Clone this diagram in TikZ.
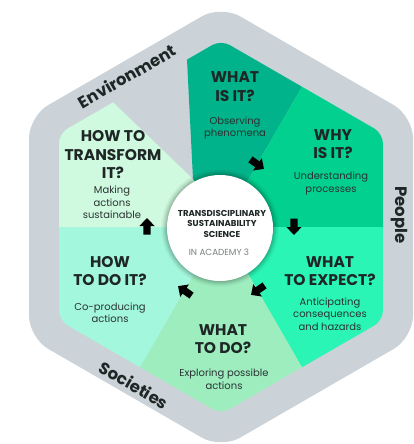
\documentclass[tikz,border=0pt]{standalone}
\usepackage{fontspec}
\setmainfont{Poppins}
\definecolor{cband}{HTML}{CBD3D8}
\definecolor{cwhat}{HTML}{00B38A}
\definecolor{cwhy}{HTML}{02D08F}
\definecolor{cexp}{HTML}{2AF5B4}
\definecolor{cdo}{HTML}{9DEDBF}
\definecolor{chow}{HTML}{A3F7DC}
\definecolor{ctrans}{HTML}{CFFADF}
\definecolor{ctext}{HTML}{1E2626}
\definecolor{cbody}{HTML}{2B3333}
\definecolor{csub}{HTML}{7A7F80}
\newcommand\mkhead{\fontsize{15.5}{18.4}\selectfont\bfseries}
\newcommand\mkbody{\fontsize{10}{12.4}\selectfont}
\newcommand\mkband{\fontsize{16.5}{19}\selectfont\bfseries}
\newcommand\mkcore{\fontsize{8.6}{10.6}\selectfont\bfseries}
\newcommand\mksub{\fontsize{8.8}{10.6}\selectfont}
\begin{document}
\begin{tikzpicture}[x=1pt,y=-1pt,
  head/.style={font=\mkhead, text=ctext, align=center, inner sep=0pt},
  body/.style={font=\mkbody, text=cbody, align=center, inner sep=0pt},
  band/.style={font=\mkband, text=ctext, inner sep=0pt},
  coretext/.style={font=\mkcore, text=ctext, align=center, inner sep=0pt},
  coresub/.style={font=\mksub, text=csub, inner sep=0pt},
  flowarrow/.pic={\fill[black] (-8,-3.6) -- (0.5,-3.6) -- (0.5,-7.6) -- (8.5,0)
      -- (0.5,7.6) -- (0.5,3.6) -- (-8,3.6) -- cycle;}]
\useasboundingbox (0,0) rectangle (414,444);
% outer band
\fill[cband, rounded corners=22pt] (221,5.3) -- (413,116.2) -- (413,337.8)
  -- (221,448.7) -- (29,337.8) -- (29,116.2) -- cycle;
% segments
\begin{scope}
\clip[rounded corners=10pt] (221,40) -- (383,133.5) -- (383,320.5)
  -- (221,414) -- (59,320.5) -- (59,133.5) -- cycle;
\fill[cwhat] (221,227) -- (193,179) -- (181,-60) -- (383,-53.6) -- cycle;
\fill[cwhy] (221,227) -- (383,-53.6) -- (545,40) -- (545,227) -- cycle;
\fill[cexp] (221,227) -- (545,227) -- (545,414) -- (383,507.6) -- cycle;
\fill[cdo] (221,227) -- (383,507.6) -- (221,601) -- (59,507.6) -- cycle;
\fill[chow] (221,227) -- (59,507.6) -- (-103,414) -- (-103,227) -- cycle;
\fill[ctrans] (221,227) -- (-103,227) -- (-103,40) -- (33,25.6) -- (193,179) -- cycle;
\end{scope}
% centre circle with soft shadow
\foreach \r/\o in {59/0.02,58/0.03,57/0.04,56/0.05,55/0.06,54/0.07}
  \fill[black, opacity=\o] (220,228) circle[radius=\r pt];
\node[circle, fill=white, minimum size=106pt, inner sep=0pt] (core) at (220,228) {};
\node[coretext] (ct) at (222,223.9) {TRANSDISCIPLINARY\\SUSTAINABILITY\\SCIENCE};
\node[coresub] (cs) at (219,252) {IN ACADEMY 3};
% segment texts
\node[head] (h1) at (235,86.5) {WHAT\\IS IT?};
\node[body] (b1) at (235,128.2) {Observing\\phenomena};
\node[head] (h2) at (333,144) {WHY\\IS IT?};
\node[body] (b2) at (331,183.5) {Understanding\\processes};
\node[head] (h3) at (330,271) {WHAT\\TO EXPECT?};
\node[body] (b3) at (330,314) {Anticipating\\consequences\\and hazards};
\node[head] (h4) at (223,339) {WHAT\\TO DO?};
\node[body] (b4) at (224,379.3) {Exploring possible\\actions};
\node[head] (h5) at (110,271) {HOW\\TO DO IT?};
\node[body] (b5) at (110,313) {Co-producing\\actions};
\node[head] (h6) at (113,154.6) {HOW TO\\TRANSFORM\\IT?};
\node[body] (b6) at (112,202.4) {Making\\actions\\sustainable};
% band labels
\node[band, rotate=30] (env) at (127,76) {Environment};
\node[band, rotate=-90] (ppl) at (399,215) {People};
\node[band, rotate=-30] (soc) at (134,385) {Societies};
% flow arrows
\pic (a1) [rotate=-35] at (257,164) {flowarrow};
\pic (a2) [rotate=-90] at (294,226.5) {flowarrow};
\pic (a3) [rotate=-145] at (258,290) {flowarrow};
\pic (a4) [rotate=145] at (185,291) {flowarrow};
\pic (a5) [rotate=90] at (147,226.5) {flowarrow};
\end{tikzpicture}
\end{document}
